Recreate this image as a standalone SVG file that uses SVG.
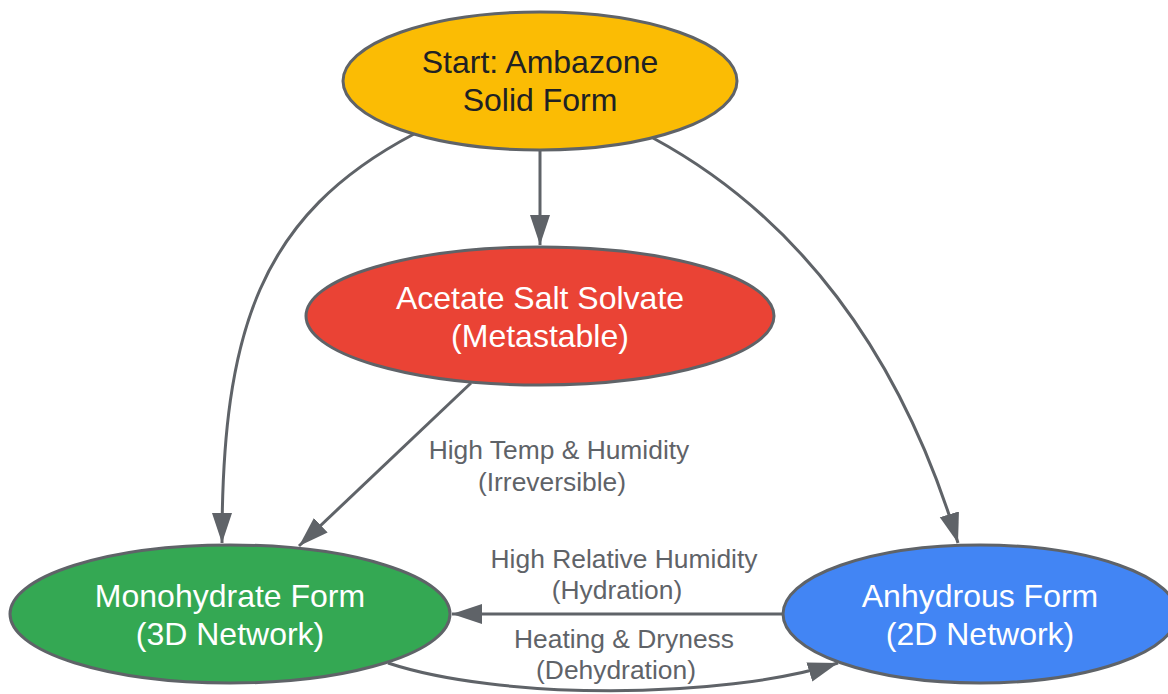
<svg xmlns="http://www.w3.org/2000/svg" width="1168" height="694" viewBox="0 0 1168 694">
<style>
.node{stroke:#5F6368;stroke-width:3}
.nt{font-family:"Liberation Sans",Arial,sans-serif;font-size:32px;text-anchor:middle}
.lt{font-family:"Liberation Sans",Arial,sans-serif;font-size:26.4px;text-anchor:middle;fill:#5F6368}
.edge{fill:none;stroke:#5F6368;stroke-width:3}
</style>
<defs>
<marker id="arr" markerUnits="userSpaceOnUse" markerWidth="32" markerHeight="22" refX="30" refY="10" orient="auto">
<path d="M0,0 L30,10 L0,20 z" fill="#5F6368"/>
</marker>
</defs>
<rect width="1168" height="694" fill="#FFFFFF"/>
<g id="connectors">
<path class="edge" d="M540,150 L540,245" marker-end="url(#arr)"/>
<path class="edge" d="M414,134 C260,215 222,330 222,543" marker-end="url(#arr)"/>
<path class="edge" d="M653,138 C795,215 900,350 958,543" marker-end="url(#arr)"/>
<path class="edge" d="M471,383 L299,546" marker-end="url(#arr)"/>
<path class="edge" d="M783,614 L452,614" marker-end="url(#arr)"/>
<path class="edge" d="M388,663 C500,700 720,700 838,663" marker-end="url(#arr)"/>
<text class="lt" x="559" y="459">High Temp &amp; Humidity</text>
<text class="lt" x="552" y="491">(Irreversible)</text>
<text class="lt" x="624" y="568">High Relative Humidity</text>
<text class="lt" x="617" y="599">(Hydration)</text>
<text class="lt" x="624" y="648">Heating &amp; Dryness</text>
<text class="lt" x="616" y="679">(Dehydration)</text>
</g>
<g id="start">
<ellipse class="node" cx="540" cy="81" rx="197" ry="69" fill="#FBBC04"/>
<text class="nt" x="540" y="73" fill="#202124">Start: Ambazone</text>
<text class="nt" x="540" y="111" fill="#202124">Solid Form</text>
</g>
<g id="acetate">
<ellipse class="node" cx="540" cy="316" rx="234" ry="69" fill="#EA4335"/>
<text class="nt" x="540" y="309" fill="#FFFFFF">Acetate Salt Solvate</text>
<text class="nt" x="540" y="347" fill="#FFFFFF">(Metastable)</text>
</g>
<g id="monohydrate">
<ellipse class="node" cx="230" cy="614" rx="220" ry="69" fill="#34A853"/>
<text class="nt" x="230" y="607" fill="#FFFFFF">Monohydrate Form</text>
<text class="nt" x="230" y="645" fill="#FFFFFF">(3D Network)</text>
</g>
<g id="anhydrous">
<ellipse class="node" cx="980" cy="614" rx="197" ry="69" fill="#4285F4"/>
<text class="nt" x="980" y="607" fill="#FFFFFF">Anhydrous Form</text>
<text class="nt" x="980" y="645" fill="#FFFFFF">(2D Network)</text>
</g>
</svg>
